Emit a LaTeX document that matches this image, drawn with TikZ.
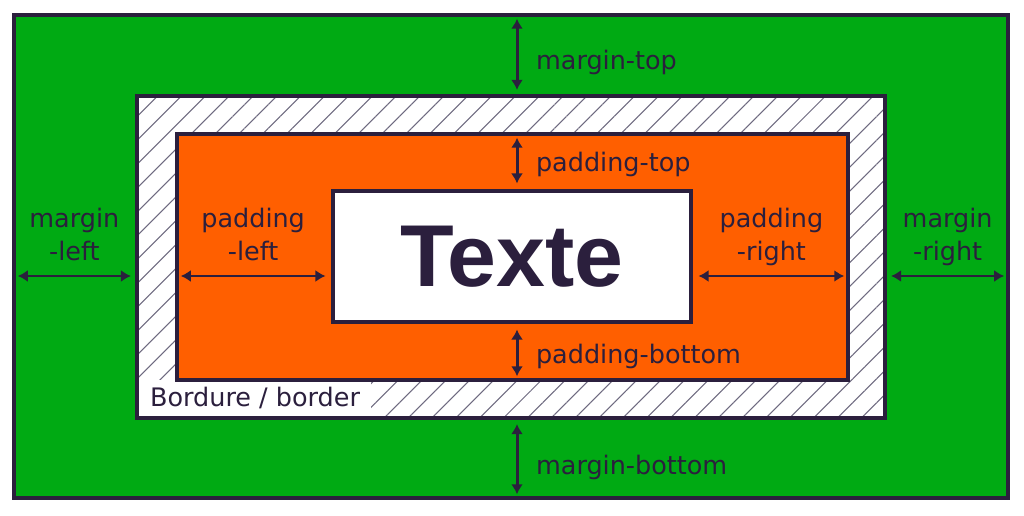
\documentclass[tikz,border=0pt]{standalone}
\usepackage{fontspec}
\setmainfont{DejaVu Sans}
\newfontfamily\textefont{Liberation Sans}
\usetikzlibrary{positioning, arrows.meta, patterns.meta}
\definecolor{BoxInk}{HTML}{2B1F3D}
\definecolor{MarginGreen}{HTML}{00AA13}
\definecolor{PaddingOrange}{HTML}{FF5F00}
\definecolor{HatchGrey}{HTML}{6E6A80}

\begin{document}
\begin{tikzpicture}[x=0.02cm, y=-0.02cm, font=\fontsize{14.5}{18.8}\selectfont]
    \tikzset{
        boxpart/.style={rectangle, draw=BoxInk, line width=2.2pt, inner sep=0pt},
        marginarea/.style={boxpart, fill=MarginGreen,
            minimum width=19.88cm, minimum height=9.66cm},
        borderarea/.style={boxpart, preaction={fill=white},
            pattern={Lines[angle=45, distance=9.6pt, line width=0.6pt]},
            pattern color=HatchGrey,
            minimum width=14.96cm, minimum height=6.44cm},
        paddingarea/.style={boxpart, fill=PaddingOrange,
            minimum width=13.42cm, minimum height=4.92cm},
        contentarea/.style={boxpart, fill=white,
            minimum width=7.16cm, minimum height=2.62cm},
        measure/.style={line width=1.7pt, draw=BoxInk,
            {Latex[length=2mm, width=2.4mm]}-{Latex[length=2mm, width=2.4mm]},
            shorten <=3.2pt, shorten >=3.2pt},
        sidelabel/.style={right=10pt, inner sep=0pt, text=BoxInk, yshift=-2pt},
        toplabel/.style={above=8pt, inner sep=0pt, align=center,
            text depth=0pt, text=BoxInk}
    }
    \useasboundingbox (0,0) rectangle (1024,516);
    \node[marginarea] (margin) at (511,256.5) {};
    \node[borderarea] (border) at (511,257) {};
    \node[anchor=south west, fill=white, inner xsep=6.4pt, inner ysep=0pt,
        minimum height=20.4pt, text=BoxInk, xshift=1.1pt, yshift=1.1pt]
        (bordertag) at (border.south west) {Bordure / border};
    \node[paddingarea] (padding) at (512.5,257) {};
    \node[contentarea] (content) at (512,256.5)
        {\textefont\bfseries\fontsize{50}{50}\selectfont\color{BoxInk}Texte};
    \coordinate (midcol) at (517,0);
    \coordinate (midrow) at (0,276);
    \draw[measure] (margin.north -| midcol) -- node[sidelabel, yshift=-2.5pt] {margin-top} (border.north -| midcol);
    \draw[measure] (padding.north -| midcol) -- node[sidelabel] {padding-top} (content.north -| midcol);
    \draw[measure] (content.south -| midcol) -- node[sidelabel] {padding-bottom} (padding.south -| midcol);
    \draw[measure] (border.south -| midcol) -- node[sidelabel, yshift=-2.5pt] {margin-bottom} (margin.south -| midcol);
    \draw[measure] (margin.west |- midrow) -- node[toplabel] {margin\\-left} (border.west |- midrow);
    \draw[measure] (padding.west |- midrow) -- node[toplabel] {padding\\-left} (content.west |- midrow);
    \draw[measure] (content.east |- midrow) -- node[toplabel] {padding\\-right} (padding.east |- midrow);
    \draw[measure] (border.east |- midrow) -- node[toplabel] {margin\\-right} (margin.east |- midrow);
\end{tikzpicture}
\end{document}
